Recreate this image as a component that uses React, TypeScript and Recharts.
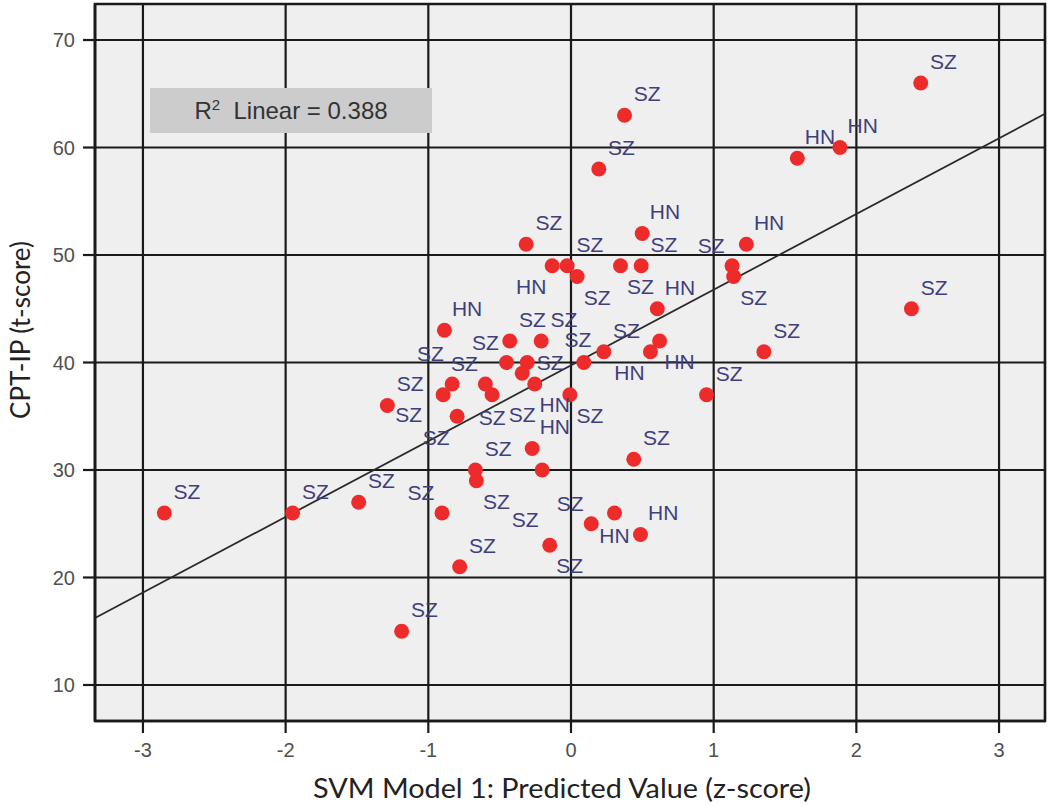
import { ScatterChart, Scatter, XAxis, YAxis, CartesianGrid, ReferenceLine, ReferenceArea } from 'recharts';

// SVM predicted value (z-score) per subject
const predicted = [
  -2.85, -1.951, -1.488, -1.287, -0.904, -1.187, -0.78, -0.149, 0.142, 0.305,
  0.487, -0.67, -0.663, -0.202, -0.272, 0.44, -0.798, -0.896, -0.833, -0.6,
  -0.553, -0.452, -0.307, -0.342, -0.254, -0.008, 0.09, 0.23, 0.557, 0.621,
  0.605, 0.95, 1.352, 2.386, -0.887, -0.429, -0.209, -0.314, -0.132, -0.027,
  0.043, 0.347, 0.492, 0.499, 1.129, 1.14, 1.229, 1.586, 1.885, 2.451,
  0.375, 0.195,
];

// CPT-IP t-score per subject
const cptScore = [
  26, 26, 27, 36, 26, 15, 21, 23, 25, 26,
  24, 30, 29, 30, 32, 31, 35, 37, 38, 38,
  37, 40, 40, 39, 38, 37, 40, 41, 41, 42,
  45, 37, 41, 45, 43, 42, 42, 51, 49, 49,
  48, 49, 49, 52, 49, 48, 51, 59, 60, 66,
  63, 58,
];

const group = [
  'SZ', 'SZ', 'SZ', 'SZ', 'SZ', 'SZ', 'SZ', 'SZ', 'SZ', 'HN',
  'HN', 'SZ', 'SZ', 'SZ', 'HN', 'SZ', 'SZ', 'SZ', 'SZ', 'SZ',
  'SZ', 'SZ', 'SZ', 'SZ', 'HN', 'SZ', 'SZ', 'SZ', 'HN', 'HN',
  'HN', 'SZ', 'SZ', 'SZ', 'HN', 'SZ', 'SZ', 'SZ', 'HN', 'SZ',
  'SZ', 'SZ', 'SZ', 'HN', 'SZ', 'SZ', 'HN', 'HN', 'HN', 'SZ',
  'SZ', 'SZ',
];

// where each case label sits relative to its dot (SPSS moves them to avoid overlap)
const labelSpot = [
  'ur', 'ur', 'ur', 'ur', 'ul', 'ur', 'ur', 'dr', 'ul', 'd',
  'ur', 'ur', 'dr', 'dlFar', 'ur', 'ur', 'dl', 'lDown', 'ulHigh', 'ul',
  'd', 'ul', 'r', 'dFar', 'dr', 'dr', 'u', 'ur', 'dl', 'dr',
  'ur', 'ur', 'ur', 'ur', 'ur', 'ur', 'ur', 'ur', 'dl', 'ur',
  'dr', 'dr', 'ur', 'ur', 'ul', 'dr', 'ur', 'ur', 'ur', 'ur',
  'ur', 'ur',
];

const xTicks = [-3, -2, -1, 0, 1, 2, 3];
const yTicks = [10, 20, 30, 40, 50, 60, 70];
const xDomain: [number, number] = [-3.336, 3.322];
const yDomain: [number, number] = [6.65, 73.35];

const fitIntercept = 39.73;
const fitSlope = 7.045;
const rSquared = '0.388';

const spotOffsets: Record<string, [number, number]> = {
  ur: [22.7, -21.7],
  ul: [-21, -20],
  dr: [20, 20.5],
  dl: [-21, 21],
  d: [0, 22.5],
  r: [23, 0],
  u: [-6, -23],
  dlFar: [-17, 50],
  dFar: [0, 41.5],
  lDown: [-34.5, 20],
  ulHigh: [-21.7, -30.5],
};

const data = predicted.map((x, i) => ({
  x,
  y: cptScore[i],
  group: group[i],
  spot: labelSpot[i],
}));

const fitLine = [
  { x: xDomain[0], y: fitIntercept + fitSlope * xDomain[0] },
  { x: xDomain[1], y: fitIntercept + fitSlope * xDomain[1] },
];

const ink = '#1a1a1a';
const tickFont = { fontSize: 20, fill: '#505050', fontFamily: '"Liberation Sans", Arial, sans-serif' };
const titleFont = 'Lato, "Open Sans", sans-serif';

const Dot = (p: any) => <circle cx={p.cx} cy={p.cy} r={7.5} fill="#ee2b2b" />;

const CaseLabel = (p: any) => {
  const [dx, dy] = spotOffsets[p.payload.spot] || spotOffsets.ur;
  return (
    <text
      x={p.cx + dx}
      y={p.cy + dy + 7.5}
      textAnchor="middle"
      fontSize={21}
      fontFamily='"Liberation Sans", Arial, sans-serif'
      fill="#3f3f7c"
    >
      {p.payload.group}
    </text>
  );
};

export default function App() {
  return (
    <div style={{ position: 'absolute', left: 0, top: 0, width: 1050, height: 807, background: '#fff' }}>
      <ScatterChart width={1050} height={807} margin={{ top: 4, right: 5, bottom: 26, left: 15 }}>
        <CartesianGrid stroke={ink} strokeWidth={2.2} fill="#efefef" fillOpacity={1} />
        <XAxis
          type="number"
          dataKey="x"
          domain={xDomain}
          ticks={xTicks}
          allowDataOverflow
          height={60}
          tickSize={12}
          tickMargin={10}
          tick={tickFont}
          tickLine={{ stroke: ink, strokeWidth: 2.2 }}
          axisLine={{ stroke: ink, strokeWidth: 2.5 }}
          label={{
            content: () => (
              <text
                x={562}
                y={798}
                textAnchor="middle"
                fontSize={26}
                fontFamily={titleFont}
                fill="#222"
                textLength={498}
                lengthAdjust="spacingAndGlyphs"
              >
                SVM Model 1: Predicted Value (z-score)
              </text>
            ),
          }}
        />
        <YAxis
          type="number"
          dataKey="y"
          domain={yDomain}
          ticks={yTicks}
          allowDataOverflow
          width={80}
          tickSize={12}
          tickMargin={8}
          tick={tickFont}
          tickLine={{ stroke: ink, strokeWidth: 2.2 }}
          axisLine={{ stroke: ink, strokeWidth: 2.5 }}
          label={{
            content: () => (
              <text
                x={20}
                y={330}
                transform="rotate(-90 20 330)"
                textAnchor="middle"
                dominantBaseline="central"
                fontSize={26}
                fontFamily={titleFont}
                fill="#222"
              >
                CPT-IP (t-score)
              </text>
            ),
          }}
        />
        <ReferenceArea
          x1={xDomain[0]}
          x2={xDomain[1]}
          y1={yDomain[0]}
          y2={yDomain[1]}
          fill="none"
          stroke={ink}
          strokeWidth={2.5}
        />
        <ReferenceLine segment={fitLine} stroke="#2a2a2a" strokeWidth={1.8} />
        <Scatter data={data} shape={Dot} isAnimationActive={false} />
        <Scatter data={data} shape={CaseLabel} isAnimationActive={false} />
      </ScatterChart>
      <div
        style={{
          position: 'absolute',
          left: 150,
          top: 88,
          width: 282,
          height: 45,
          background: '#cccccc',
          display: 'flex',
          alignItems: 'center',
          justifyContent: 'center',
          fontFamily: '"Liberation Sans", Arial, sans-serif',
          fontSize: 24,
          color: '#333',
          whiteSpace: 'pre',
        }}
      >
        <span>
          R<sup style={{ fontSize: 15 }}>2</sup>  Linear = {rSquared}
        </span>
      </div>
    </div>
  );
}
